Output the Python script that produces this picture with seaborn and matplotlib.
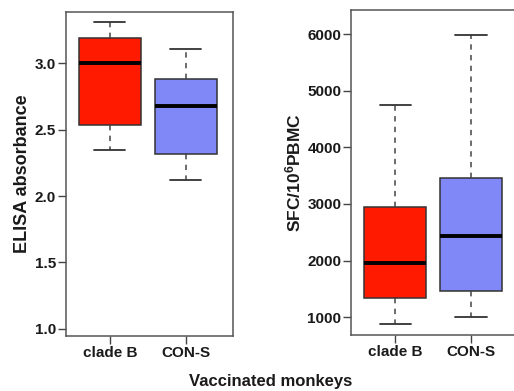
import numpy as np
import pandas as pd
import matplotlib
matplotlib.use('Agg')
import matplotlib.pyplot as plt
import seaborn as sns

# box stats: low whisker, Q1, median, Q3, high whisker
groups = ['clade B', 'CON-S']
elisa_clade_b = [2.35, 2.54, 3.00, 3.19, 3.31]
elisa_con_s = [2.12, 2.32, 2.68, 2.88, 3.11]
sfc_clade_b = [880, 1340, 1955, 2945, 4750]
sfc_con_s = [1000, 1460, 2435, 3455, 5980]
elisa_ticks = [1.0, 1.5, 2.0, 2.5, 3.0]
sfc_ticks = [1000, 2000, 3000, 4000, 5000, 6000]
colors = ['#ff1a00', '#8088f8']

elisa = pd.DataFrame({'group': ['clade B'] * 5 + ['CON-S'] * 5,
                      'value': elisa_clade_b + elisa_con_s})
sfc = pd.DataFrame({'group': ['clade B'] * 5 + ['CON-S'] * 5,
                    'value': sfc_clade_b + sfc_con_s})

sns.set_style('white')
plt.rcParams['font.family'] = ['Liberation Sans', 'DejaVu Sans']
plt.rcParams['font.weight'] = 'bold'
plt.rcParams['text.color'] = '#1a1a1a'
plt.rcParams['axes.labelcolor'] = '#1a1a1a'
plt.rcParams['xtick.color'] = '#1a1a1a'
plt.rcParams['ytick.color'] = '#1a1a1a'
plt.rcParams['mathtext.fontset'] = 'custom'
plt.rcParams['mathtext.bf'] = 'Liberation Sans:bold'
plt.rcParams['mathtext.rm'] = 'Liberation Sans:bold'
plt.rcParams['mathtext.default'] = 'bf'

fig = plt.figure(figsize=(5.14, 3.91), dpi=100)
ax1 = fig.add_axes([0.128, 0.141, 0.325, 0.829])
ax2 = fig.add_axes([0.683, 0.143, 0.325, 0.831])

box_kw = dict(x='group', y='value', hue='group', palette=colors, legend=False,
              width=0.82, whis=np.inf, linecolor='#333333', linewidth=1.1,
              medianprops=dict(color='black', linewidth=2.8),
              whiskerprops=dict(linestyle=(0, (3.5, 3.5)), color='#444444'),
              capprops=dict(color='#333333', linewidth=1.3),
              saturation=1)

sns.boxplot(data=elisa, ax=ax1, **box_kw)
sns.boxplot(data=sfc, ax=ax2, **box_kw)

ax1.set_ylim(0.947, 3.39)
ax1.set_yticks(elisa_ticks)
ax1.set_yticklabels(['%.1f' % t for t in elisa_ticks])
ax1.set_xlim(-0.58, 1.62)
ax1.set_ylabel('ELISA absorbance', fontsize=13, fontweight='bold', labelpad=3)

ax2.set_ylim(682, 6424)
ax2.set_yticks(sfc_ticks)
ax2.set_yticklabels([str(t) for t in sfc_ticks])
ax2.set_xlim(-0.58, 1.62)
ax2.set_ylabel('SFC/10$^6$PBMC', fontsize=12.5, fontweight='bold', labelpad=3)

for ax in (ax1, ax2):
    ax.set_xlabel('')
    ax.tick_params(axis='both', which='both', direction='out', length=6,
                   width=1, color='#444444', pad=1, labelsize=11,
                   left=True, bottom=True)
    for lab in ax.get_xticklabels() + ax.get_yticklabels():
        lab.set_fontweight('bold')
    for sp in ax.spines.values():
        sp.set_color('#555555')
        sp.set_linewidth(1.1)

fig.text(0.527, 0.025, 'Vaccinated monkeys', ha='center', va='center',
         fontsize=12, fontweight='bold')

fig.savefig('out.png', dpi=100)
